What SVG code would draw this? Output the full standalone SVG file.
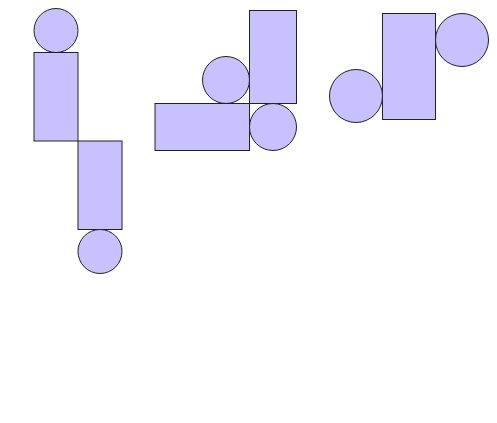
<svg xmlns="http://www.w3.org/2000/svg" width="497" height="423" viewBox="0 0 497 423">
<style>
.s{fill:#c9c1ff;stroke:#222;stroke-width:1}
</style>
<rect width="497" height="423" fill="#fff"/>
<g id="left">
<circle class="s" cx="56" cy="30.5" r="22"/>
<rect class="s" x="34" y="52.5" width="44" height="88.5"/>
<rect class="s" x="78" y="141" width="44" height="88.5"/>
<circle class="s" cx="100" cy="251.5" r="22"/>
</g>
<g id="middle">
<rect class="s" x="249.5" y="10.5" width="47" height="93"/>
<circle class="s" cx="226" cy="80" r="23.5"/>
<rect class="s" x="155" y="103.5" width="94.5" height="47"/>
<circle class="s" cx="273" cy="127" r="23.5"/>
</g>
<g id="right">
<rect class="s" x="382.5" y="13.5" width="53" height="106"/>
<circle class="s" cx="462" cy="40" r="26.5"/>
<circle class="s" cx="356" cy="96" r="26.5"/>
</g>
<g id="connectors"></g>
</svg>
